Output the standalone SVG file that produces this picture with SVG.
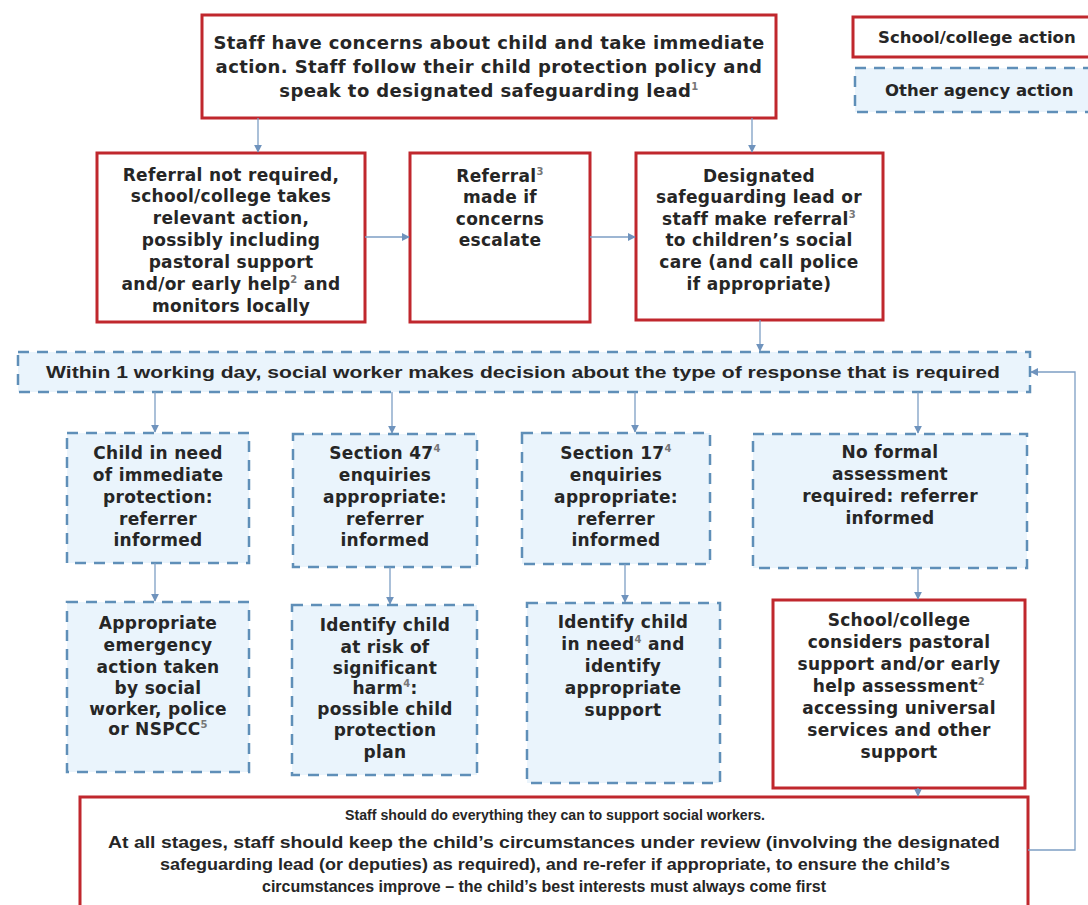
<svg xmlns="http://www.w3.org/2000/svg" width="1088" height="905" viewBox="0 0 1088 905">
<defs>
<marker id="ah" viewBox="0 0 10 10" refX="9" refY="5" markerWidth="8" markerHeight="8" markerUnits="userSpaceOnUse" orient="auto"><path d="M0,0 L10,5 L0,10 z" fill="#6f93bd"/></marker>
</defs>
<style>
.red{fill:#fff;stroke:#c0272d;stroke-width:3}
.blue{fill:#eaf4fc;stroke:#5f8fb8;stroke-width:2.5;stroke-dasharray:11 8}
.t{font-family:"DejaVu Sans",sans-serif;font-weight:bold;font-size:17px;letter-spacing:0.3px;fill:#262626;text-anchor:middle}
.big{font-size:18px;letter-spacing:0.4px}
.lg{font-size:16.5px;letter-spacing:0px;text-anchor:start}
.n{font-family:"Liberation Sans",sans-serif;font-weight:bold;font-size:17px;fill:#262626;text-anchor:middle}
.n1{font-size:15.5px}
.s{font-size:10px;fill:#777}
.c{fill:none;stroke:#7d9ec4;stroke-width:1.3;marker-end:url(#ah)}
</style>
<rect width="1088" height="905" fill="#fff"/>

<g id="legend-school">
<rect class="red" x="853" y="17" width="260" height="40"/>
<text class="t lg" x="878" y="43">School/college action</text>
</g>
<g id="legend-agency">
<rect class="blue" x="855" y="68" width="260" height="44"/>
<text class="t lg" x="885" y="96">Other agency action</text>
</g>

<g id="n-top">
<rect class="red" x="202" y="15" width="574" height="103"/>
<text class="t big"><tspan x="489" y="49">Staff have concerns about child and take immediate</tspan><tspan x="489" y="73">action. Staff follow their child protection policy and</tspan><tspan x="489" y="97">speak to designated safeguarding lead<tspan class="s" dy="-7">1</tspan></tspan></text>
</g>

<g id="n-notrequired">
<rect class="red" x="97" y="153" width="268" height="169"/>
<text class="t"><tspan x="231" y="181">Referral not required,</tspan><tspan x="231" y="202">school/college takes</tspan><tspan x="231" y="224">relevant action,</tspan><tspan x="231" y="246">possibly including</tspan><tspan x="231" y="268">pastoral support</tspan><tspan x="231" y="290">and/or early help<tspan class="s" dy="-7">2</tspan><tspan dy="7"> and</tspan></tspan><tspan x="231" y="312">monitors locally</tspan></text>
</g>

<g id="n-escalate">
<rect class="red" x="410" y="153" width="180" height="169"/>
<text class="t"><tspan x="500" y="182">Referral<tspan class="s" dy="-7">3</tspan></tspan><tspan x="500" y="203">made if</tspan><tspan x="500" y="225">concerns</tspan><tspan x="500" y="246">escalate</tspan></text>
</g>

<g id="n-dsl">
<rect class="red" x="636" y="153" width="247" height="167"/>
<text class="t"><tspan x="759" y="182">Designated</tspan><tspan x="759" y="203">safeguarding lead or</tspan><tspan x="759" y="225">staff make referral<tspan class="s" dy="-7">3</tspan></tspan><tspan x="759" y="246">to children’s social</tspan><tspan x="759" y="268">care (and call police</tspan><tspan x="759" y="290">if appropriate)</tspan></text>
</g>

<g id="n-decision">
<rect class="blue" x="18" y="352" width="1012" height="40"/>
<text class="n" x="523" y="378" textLength="954" lengthAdjust="spacingAndGlyphs">Within 1 working day, social worker makes decision about the type of response that is required</text>
</g>

<g id="n-immediate">
<rect class="blue" x="67" y="433" width="182" height="130"/>
<text class="t"><tspan x="158" y="459">Child in need</tspan><tspan x="158" y="481">of immediate</tspan><tspan x="158" y="503">protection:</tspan><tspan x="158" y="525">referrer</tspan><tspan x="158" y="546">informed</tspan></text>
</g>

<g id="n-s47">
<rect class="blue" x="293" y="434" width="184" height="133"/>
<text class="t"><tspan x="385" y="459">Section 47<tspan class="s" dy="-7">4</tspan></tspan><tspan x="385" y="481">enquiries</tspan><tspan x="385" y="503">appropriate:</tspan><tspan x="385" y="525">referrer</tspan><tspan x="385" y="546">informed</tspan></text>
</g>

<g id="n-s17">
<rect class="blue" x="522" y="433" width="188" height="131"/>
<text class="t"><tspan x="616" y="459">Section 17<tspan class="s" dy="-7">4</tspan></tspan><tspan x="616" y="481">enquiries</tspan><tspan x="616" y="503">appropriate:</tspan><tspan x="616" y="525">referrer</tspan><tspan x="616" y="546">informed</tspan></text>
</g>

<g id="n-noformal">
<rect class="blue" x="753" y="434" width="274" height="134"/>
<text class="t"><tspan x="890" y="458">No formal</tspan><tspan x="890" y="480">assessment</tspan><tspan x="890" y="502">required: referrer</tspan><tspan x="890" y="524">informed</tspan></text>
</g>

<g id="n-emergency">
<rect class="blue" x="67" y="602" width="182" height="170"/>
<text class="t"><tspan x="158" y="629">Appropriate</tspan><tspan x="158" y="651">emergency</tspan><tspan x="158" y="673">action taken</tspan><tspan x="158" y="694">by social</tspan><tspan x="158" y="715">worker, police</tspan><tspan x="158" y="735">or NSPCC<tspan class="s" dy="-7">5</tspan></tspan></text>
</g>

<g id="n-harm">
<rect class="blue" x="292" y="605" width="185" height="170"/>
<text class="t"><tspan x="385" y="631">Identify child</tspan><tspan x="385" y="653">at risk of</tspan><tspan x="385" y="674">significant</tspan><tspan x="385" y="694">harm<tspan class="s" dy="-7">4</tspan><tspan dy="7">:</tspan></tspan><tspan x="385" y="715">possible child</tspan><tspan x="385" y="736">protection</tspan><tspan x="385" y="758">plan</tspan></text>
</g>

<g id="n-need">
<rect class="blue" x="527" y="603" width="193" height="180"/>
<text class="t"><tspan x="623" y="628">Identify child</tspan><tspan x="623" y="650">in need<tspan class="s" dy="-7">4</tspan><tspan dy="7"> and</tspan></tspan><tspan x="623" y="672">identify</tspan><tspan x="623" y="694">appropriate</tspan><tspan x="623" y="716">support</tspan></text>
</g>

<g id="n-pastoral">
<rect class="red" x="773" y="600" width="252" height="188"/>
<text class="t"><tspan x="899" y="626">School/college</tspan><tspan x="899" y="648">considers pastoral</tspan><tspan x="899" y="670">support and/or early</tspan><tspan x="899" y="692">help assessment<tspan class="s" dy="-7">2</tspan></tspan><tspan x="899" y="714">accessing universal</tspan><tspan x="899" y="736">services and other</tspan><tspan x="899" y="758">support</tspan></text>
</g>

<g id="n-review">
<rect class="red" x="80" y="797" width="948" height="125"/>
<text class="n n1" x="555" y="820" textLength="420" lengthAdjust="spacingAndGlyphs">Staff should do everything they can to support social workers.</text>
<text class="n" x="554" y="848" textLength="892" lengthAdjust="spacingAndGlyphs">At all stages, staff should keep the child’s circumstances under review (involving the designated</text>
<text class="n" x="555" y="870" textLength="790" lengthAdjust="spacingAndGlyphs">safeguarding lead (or deputies) as required), and re-refer if appropriate, to ensure the child’s</text>
<text class="n" x="544" y="892" textLength="564" lengthAdjust="spacingAndGlyphs">circumstances improve – the child’s best interests must always come first</text>
</g>

<g id="connectors">
<path class="c" d="M258 118 V152"/>
<path class="c" d="M752 118 V152"/>
<path class="c" d="M365 237 H409"/>
<path class="c" d="M590 237 H635"/>
<path class="c" d="M760 320 V351"/>
<path class="c" d="M155 392 V432"/>
<path class="c" d="M392 392 V433"/>
<path class="c" d="M635 392 V432"/>
<path class="c" d="M918 392 V433"/>
<path class="c" d="M155 563 V601"/>
<path class="c" d="M390 567 V604"/>
<path class="c" d="M625 564 V602"/>
<path class="c" d="M918 568 V599"/>
<path class="c" d="M918 788 V796"/>
<path class="c" d="M1028 850 H1075 V372 H1031"/>
</g>
</svg>
